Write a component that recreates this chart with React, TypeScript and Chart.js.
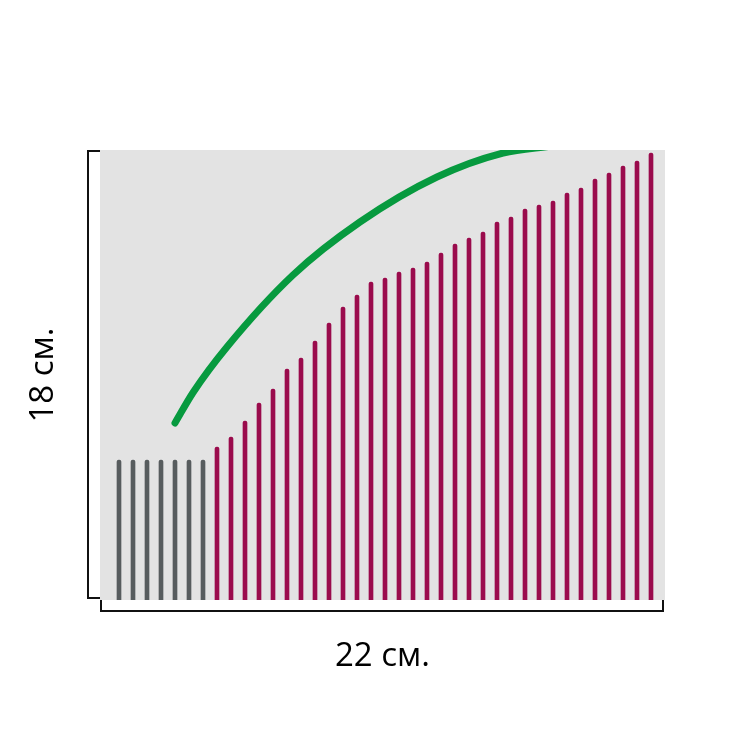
import React, { useEffect, useRef } from "react";
import { Chart, registerables } from "chart.js";

Chart.register(...registerables);

// Bar heights (in cm, 0..18 scale)
const grayHeights = [5.6, 5.6, 5.6, 5.6, 5.6, 5.6, 5.6];
const magentaHeights = [
  6.12, 6.52, 7.16, 7.88, 8.44, 9.24, 9.68, 10.36, 11.08, 11.72, 12.2, 12.72,
  12.88, 13.12, 13.28, 13.52, 13.88, 14.24, 14.48, 14.72, 15.12, 15.32, 15.64,
  15.8, 15.96, 16.28, 16.48, 16.84, 17.08, 17.36, 17.56, 17.88,
];
// Green curve (x in bar-index units, y in cm)
const curveX = [4, 5.29, 7.71, 12.43, 17.21, 22.71, 27.43, 30.93];
const curveY = [7.08, 8.3, 10.12, 13.0, 15.12, 16.92, 17.88, 18.16];

const xTitle = "22 см.";
const yTitle = "18 см.";

const bgPlugin = {
  id: "bgAndBrackets",
  beforeDraw(chart: any) {
    const { ctx, chartArea: a } = chart;
    ctx.save();
    ctx.fillStyle = "#e3e3e3";
    ctx.fillRect(a.left, a.top, a.right - a.left, a.bottom - a.top);
    ctx.restore();
  },
  afterDraw(chart: any) {
    const { ctx, chartArea: a } = chart;
    ctx.save();
    ctx.strokeStyle = "#111";
    ctx.lineWidth = 2;
    ctx.lineJoin = "miter";
    ctx.beginPath();
    ctx.moveTo(a.left, a.top + 1);
    ctx.lineTo(a.left - 12, a.top + 1);
    ctx.lineTo(a.left - 12, a.bottom - 2);
    ctx.lineTo(a.left, a.bottom - 2);
    ctx.stroke();
    ctx.beginPath();
    ctx.moveTo(a.left + 1, a.bottom);
    ctx.lineTo(a.left + 1, a.bottom + 11);
    ctx.lineTo(a.right - 2, a.bottom + 11);
    ctx.lineTo(a.right - 2, a.bottom);
    ctx.stroke();
    ctx.restore();
  },
};

export default function App() {
  const ref = useRef<HTMLCanvasElement>(null);
  useEffect(() => {
    if (!ref.current) return;
    const chart = new Chart(ref.current, {
      type: "bar",
      data: {
        datasets: [
          {
            type: "line",
            data: curveX.map((x, i) => ({ x, y: curveY[i] })),
            borderColor: "#079a3f",
            borderWidth: 7,
            borderCapStyle: "round",
            borderJoinStyle: "round",
            pointRadius: 0,
            cubicInterpolationMode: "monotone",
            clip: 0,
            order: 0,
          } as any,
          {
            type: "bar",
            data: grayHeights.map((y, i) => ({ x: i, y })),
            backgroundColor: "#575c5e",
            barThickness: 4,
            borderRadius: { topLeft: 2, topRight: 2 },
            borderSkipped: "bottom",
            grouped: false,
            order: 1,
          } as any,
          {
            type: "bar",
            data: magentaHeights.map((y, i) => ({ x: i + grayHeights.length, y })),
            backgroundColor: "#9a0b4c",
            barThickness: 4,
            borderRadius: { topLeft: 2, topRight: 2 },
            borderSkipped: "bottom",
            grouped: false,
            order: 1,
          } as any,
        ],
      },
      options: {
        animation: false,
        responsive: false,
        maintainAspectRatio: false,
        layout: { padding: { top: 150, right: 85, left: 0, bottom: 0 } },
        plugins: { legend: { display: false }, tooltip: { enabled: false } },
        scales: {
          x: {
            type: "linear",
            min: -19 / 14,
            max: -19 / 14 + 565 / 14,
            offset: false,
            ticks: { display: false },
            grid: { display: false },
            border: { display: false },
            title: {
              display: true,
              text: xTitle,
              color: "#000",
              font: { family: "'Open Sans', sans-serif", size: 33 },
              padding: { top: 0, bottom: 74 },
            },
            afterFit: (s: any) => {
              s.height = 150;
            },
          } as any,
          y: {
            min: 0,
            max: 18,
            ticks: { display: false },
            grid: { display: false },
            border: { display: false },
            title: {
              display: true,
              text: yTitle,
              color: "#000",
              font: { family: "'Open Sans', sans-serif", size: 33 },
              padding: { top: 24, bottom: 0 },
            },
            afterFit: (s: any) => {
              s.width = 100;
            },
          } as any,
        },
      },
      plugins: [bgPlugin],
    });
    return () => chart.destroy();
  }, []);
  return (
    <div style={{ position: "fixed", left: 0, top: 0, width: 750, height: 750, background: "#fff" }}>
      <canvas ref={ref} width={750} height={750} style={{ width: 750, height: 750 }} />
    </div>
  );
}
